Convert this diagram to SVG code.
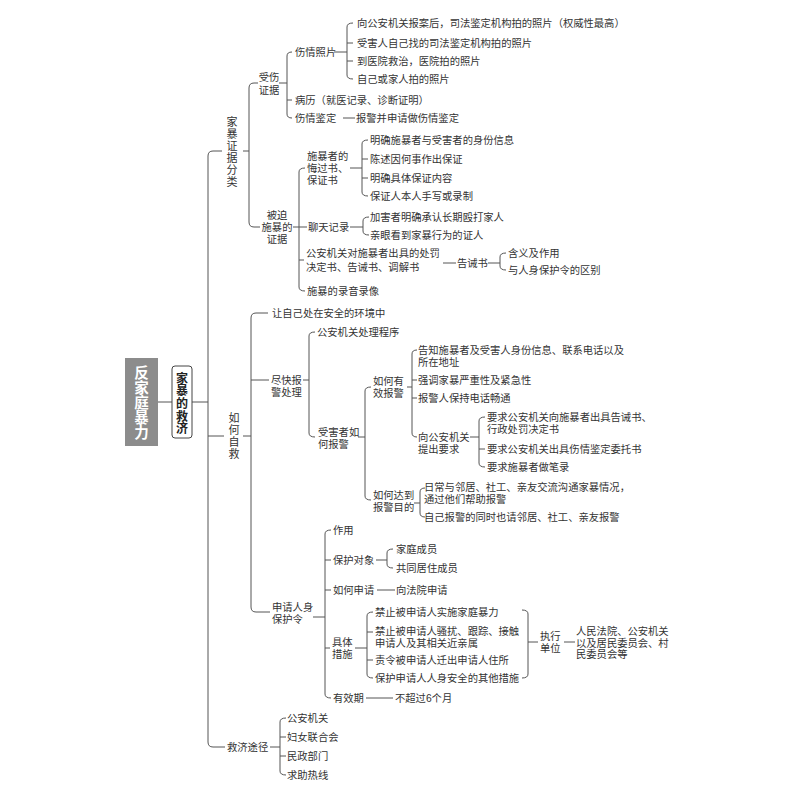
<svg xmlns="http://www.w3.org/2000/svg" width="800" height="800" viewBox="0 0 800 800">
<style>
text{font-family:"Liberation Sans","Noto Sans CJK SC","Noto Sans CJK JP",sans-serif;font-size:10.3px;fill:#333;dominant-baseline:central}
.vert{font-family:"Noto Sans CJK SC","Noto Sans CJK JP",sans-serif;writing-mode:vertical-rl;text-orientation:upright}
.v{font-size:11px;letter-spacing:1px}
.c{text-anchor:middle}
.root{font-size:14.5px;fill:#fff;font-weight:bold;letter-spacing:0.5px}
.sub{font-size:12px;font-weight:bold;fill:#222;letter-spacing:0.7px}
#connectors path{fill:none;stroke:#555;stroke-width:1}
</style>
<rect width="800" height="800" fill="#fff"/>
<g id="connectors">
<path d="M158,402 H172 M192,402 H208"/>
<path d="M222,151 H213 Q208,151 208,156 V742 Q208,747 213,747 H225 M208,436 H224"/>
<path d="M243,151 H249 M258,83 H254 Q249,83 249,88 V222 Q249,227 254,227 H260"/>
<path d="M279,83 H287 M292,52 Q287,52 287,56 V114 Q287,118 292,118 M287,100 H292"/>
<path d="M334,52 H347 M353,23 Q347,23 347,27 V75 Q347,79 353,79 M347,43 H353 M347,61 H353"/>
<path d="M343,118 H355"/>
<path d="M293,227 H307 M305,168 Q299,168 299,172 V287 Q299,291 305,291 M299,260 H304"/>
<path d="M350,168 H362 M368,140 Q362,140 362,144 V192 Q362,196 368,196 M362,159 H368 M362,178 H368"/>
<path d="M350,227 H363 M369,217 Q363,217 363,221 V231 Q363,235 369,235"/>
<path d="M443,263 H456 M488,263 H500 M506,253 Q500,253 500,257 V266 Q500,270 506,270"/>
<path d="M243,436 H251 M268,313 H256 Q251,313 251,318 V607 Q251,612 256,612 H270 M251,380 H269"/>
<path d="M303,380 H309 M315,332 Q309,332 309,336 V433 Q309,437 315,437"/>
<path d="M358,437 H365 M371,387 Q365,387 365,391 V496 Q365,500 371,500"/>
<path d="M407,387 H412 M417,350 Q412,350 412,354 V433 Q412,437 417,437 M412,380 H417 M412,398 H417"/>
<path d="M470,437 H479 M485,417 Q479,417 479,421 V463 Q479,467 485,467 M479,449 H485"/>
<path d="M414,503 H420 M425,488 Q420,488 420,492 V513 Q420,517 425,517"/>
<path d="M313,617 H325 M331,530 Q325,530 325,534 V694 Q325,698 331,698 M325,560 H331 M325,590 H331 M325,648 H330"/>
<path d="M376,560 H387 M393,549 Q387,549 387,553 V564 Q387,568 393,568"/>
<path d="M377,590 H395"/>
<path d="M355,648 H367 M373,612 Q367,612 367,616 V674 Q367,678 373,678 M367,632 H373 M367,660 H373"/>
<path d="M522,610 Q528,610 528,614 V674 Q528,678 522,678 M528,642 H538 M564,642 H575"/>
<path d="M366,698 H393"/>
<path d="M270,747 H280 M286,718 Q280,718 280,722 V771 Q280,775 286,775 M280,737 H286 M280,756 H286"/>
</g>
<g id="root">
<rect x="125" y="358" width="33" height="88" fill="#8c8c8c"/>
<text class="root vert" x="141.5" y="365">反家庭暴力</text>
</g>
<g id="jiabao-jiuji">
<rect x="172" y="366" width="20" height="72" rx="3" fill="#fff" stroke="#444" stroke-width="1"/>
<text class="sub vert" x="182" y="372">家暴的救济</text>
</g>
<g id="zhengju-fenlei">
<text class="v vert" x="232" y="116.5">家暴证据分类</text>
</g>
<g id="shoushang">
<text class="c" x="269" y="77">受伤<tspan x="269" dy="13">证据</tspan></text>
</g>
<g id="shangqing-zhaopian">
<text x="295" y="52">伤情照片</text>
<text x="357" y="23">向公安机关报案后，司法鉴定机构拍的照片（权威性最高）</text>
<text x="357" y="43">受害人自己找的司法鉴定机构拍的照片</text>
<text x="357" y="61">到医院救治，医院拍的照片</text>
<text x="357" y="79">自己或家人拍的照片</text>
</g>
<g id="bingli"><text x="295" y="100">病历（就医记录、诊断证明）</text></g>
<g id="shangqing-jianding">
<text x="295" y="118">伤情鉴定</text>
<text x="356" y="118">报警并申请做伤情鉴定</text>
</g>
<g id="beipo">
<text class="c" x="277" y="215">被迫<tspan x="277" dy="12">施暴的</tspan><tspan x="277" dy="12">证据</tspan></text>
</g>
<g id="huiguoshu">
<text x="307" y="156">施暴者的<tspan x="307" dy="12">悔过书、</tspan><tspan x="307" dy="12">保证书</tspan></text>
<text x="370" y="140">明确施暴者与受害者的身份信息</text>
<text x="370" y="159">陈述因何事作出保证</text>
<text x="370" y="178">明确具体保证内容</text>
<text x="370" y="196">保证人本人手写或录制</text>
</g>
<g id="liaotian">
<text x="308" y="227">聊天记录</text>
<text x="370" y="217">加害者明确承认长期殴打家人</text>
<text x="370" y="235">亲眼看到家暴行为的证人</text>
</g>
<g id="chufa">
<text x="306" y="253">公安机关对施暴者出具的处罚<tspan x="306" dy="14">决定书、告诫书、调解书</tspan></text>
<text x="457" y="263">告诫书</text>
<text x="508" y="253">含义及作用</text>
<text x="508" y="270">与人身保护令的区别</text>
</g>
<g id="luyin"><text x="307" y="291">施暴的录音录像</text></g>
<g id="ruhe-zijiu">
<text class="v vert" x="234" y="412.5">如何自救</text>
</g>
<g id="anquan"><text x="272" y="313">让自己处在安全的环境中</text></g>
<g id="jinkuai">
<text x="271" y="380">尽快报<tspan x="271" dy="12">警处理</tspan></text>
</g>
<g id="chuli"><text x="317" y="332">公安机关处理程序</text></g>
<g id="ruhe-baojing">
<text x="318" y="432">受害者如<tspan x="318" dy="12">何报警</tspan></text>
</g>
<g id="youxiao">
<text x="373" y="381">如何有<tspan x="373" dy="12">效报警</tspan></text>
<text x="418" y="350">告知施暴者及受害人身份信息、联系电话以及<tspan x="418" dy="12">所在地址</tspan></text>
<text x="418" y="380">强调家暴严重性及紧急性</text>
<text x="418" y="398">报警人保持电话畅通</text>
</g>
<g id="yaoqiu">
<text x="418" y="437">向公安机关<tspan x="418" dy="12">提出要求</tspan></text>
<text x="487" y="417">要求公安机关向施暴者出具告诫书、<tspan x="487" dy="11.7">行政处罚决定书</tspan></text>
<text x="487" y="449">要求公安机关出具伤情鉴定委托书</text>
<text x="487" y="467">要求施暴者做笔录</text>
</g>
<g id="mudi">
<text x="373" y="495">如何达到<tspan x="373" dy="12">报警目的</tspan></text>
<text x="424" y="487.5">日常与邻居、社工、亲友交流沟通家暴情况，<tspan x="424" dy="11.7">通过他们帮助报警</tspan></text>
<text x="424" y="517">自己报警的同时也请邻居、社工、亲友报警</text>
</g>
<g id="baohuling">
<text x="272" y="607">申请人身<tspan x="272" dy="12">保护令</tspan></text>
</g>
<g id="zuoyong"><text x="333" y="530">作用</text></g>
<g id="duixiang">
<text x="333" y="560">保护对象</text>
<text x="396" y="549">家庭成员</text>
<text x="396" y="568">共同居住成员</text>
</g>
<g id="shenqing">
<text x="333" y="590">如何申请</text>
<text x="396" y="590">向法院申请</text>
</g>
<g id="cuoshi">
<text x="332" y="642">具体<tspan x="332" dy="12">措施</tspan></text>
<text x="375" y="612">禁止被申请人实施家庭暴力</text>
<text x="375" y="631.5">禁止被申请人骚扰、跟踪、接触<tspan x="375" dy="11.7">申请人及其相关近亲属</tspan></text>
<text x="375" y="660">责令被申请人迁出申请人住所</text>
<text x="375" y="678">保护申请人人身安全的其他措施</text>
</g>
<g id="zhixing">
<text x="540" y="636">执行<tspan x="540" dy="12">单位</tspan></text>
<text x="576" y="631">人民法院、公安机关<tspan x="576" dy="11.7">以及居民委员会、村</tspan><tspan x="576" dy="11.7">民委员会等</tspan></text>
</g>
<g id="youxiaoqi">
<text x="333" y="698">有效期</text>
<text x="395" y="698">不超过6个月</text>
</g>
<g id="jiuji-tujing">
<text x="227" y="747">救济途径</text>
<text x="287" y="718">公安机关</text>
<text x="287" y="737">妇女联合会</text>
<text x="287" y="756">民政部门</text>
<text x="287" y="775">求助热线</text>
</g>
</svg>
